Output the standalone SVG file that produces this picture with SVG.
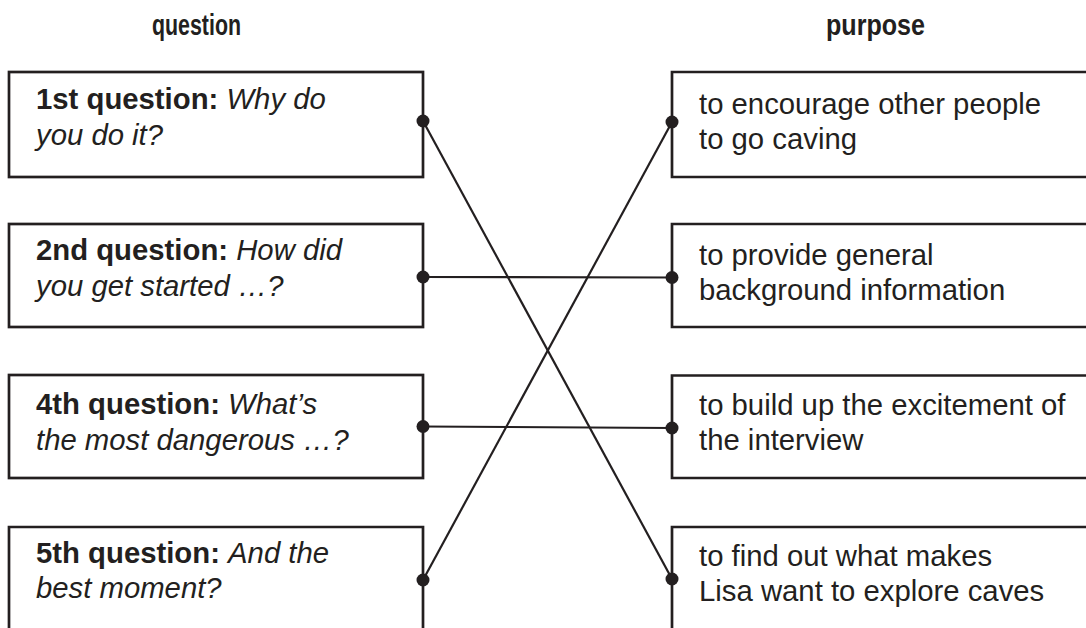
<svg xmlns="http://www.w3.org/2000/svg" width="1086" height="628" viewBox="0 0 1086 628">
<style>
.box{fill:#fff;stroke:#231f20;stroke-width:2.7}
.t{font-family:"Liberation Sans",Arial,sans-serif;font-size:29.3px;fill:#231f20}
.b{font-weight:bold}
.i{font-style:italic}
.h{font-family:"Liberation Sans",Arial,sans-serif;font-size:30px;font-weight:bold;fill:#231f20}
.ln{stroke:#231f20;stroke-width:2.2;fill:none}
.dot{fill:#231f20}
</style>
<rect width="1086" height="628" fill="#fff"/>
<g id="headers">
<text class="h" x="152" y="35" textLength="89" lengthAdjust="spacingAndGlyphs">question</text>
<text class="h" x="826" y="35" textLength="99" lengthAdjust="spacingAndGlyphs">purpose</text>
</g>
<g id="q1"><rect class="box" x="9" y="72" width="414" height="105"/>
<text class="t" x="36" y="109"><tspan class="b">1st question:</tspan> <tspan class="i">Why do</tspan></text>
<text class="t i" x="36" y="145">you do it?</text></g>
<g id="q2"><rect class="box" x="9" y="224" width="414" height="103"/>
<text class="t" x="36" y="260"><tspan class="b">2nd question:</tspan> <tspan class="i">How did</tspan></text>
<text class="t i" x="36" y="296">you get started …?</text></g>
<g id="q4"><rect class="box" x="9" y="375" width="414" height="103"/>
<text class="t" x="36" y="414"><tspan class="b">4th question:</tspan> <tspan class="i">What’s</tspan></text>
<text class="t i" x="36" y="450">the most dangerous …?</text></g>
<g id="q5"><path class="box" d="M9,640 V527 H423 V640"/>
<text class="t" x="36" y="563"><tspan class="b">5th question:</tspan> <tspan class="i">And the</tspan></text>
<text class="t i" x="36" y="598">best moment?</text></g>
<g id="p1"><path class="box" d="M1100,72 H672 V177 H1100"/>
<text class="t" x="699" y="114">to encourage other people</text>
<text class="t" x="699" y="149">to go caving</text></g>
<g id="p2"><path class="box" d="M1100,224 H672 V327 H1100"/>
<text class="t" x="699" y="265">to provide general</text>
<text class="t" x="699" y="300">background information</text></g>
<g id="p3"><path class="box" d="M1100,375.5 H672 V478 H1100"/>
<text class="t" x="699" y="415">to build up the excitement of</text>
<text class="t" x="699" y="450">the interview</text></g>
<g id="p4"><path class="box" d="M1100,527 H672 V640"/>
<text class="t" x="699" y="566">to find out what makes</text>
<text class="t" x="699" y="601">Lisa want to explore caves</text></g>
<g id="connectors">
<line class="ln" x1="423" y1="121" x2="672" y2="579"/>
<line class="ln" x1="423" y1="277" x2="672" y2="277.5"/>
<line class="ln" x1="423" y1="426.5" x2="672" y2="428"/>
<line class="ln" x1="423" y1="580" x2="672" y2="122"/>
<circle class="dot" cx="423" cy="121" r="6.5"/>
<circle class="dot" cx="672" cy="579" r="6.5"/>
<circle class="dot" cx="423" cy="277" r="6.5"/>
<circle class="dot" cx="672" cy="277.5" r="6.5"/>
<circle class="dot" cx="423" cy="426.5" r="6.5"/>
<circle class="dot" cx="672" cy="428" r="6.5"/>
<circle class="dot" cx="423" cy="580" r="6.5"/>
<circle class="dot" cx="672" cy="122" r="6.5"/>
</g>
</svg>
